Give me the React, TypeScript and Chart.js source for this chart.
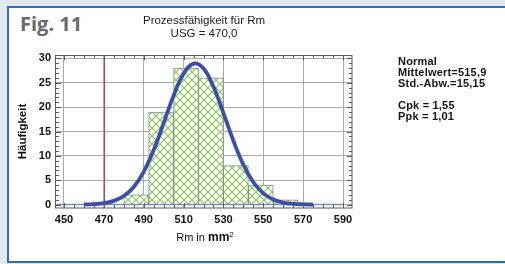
import React, { useEffect, useRef } from 'react';
import { Chart, registerables } from 'chart.js';

Chart.register(...registerables);

const figLabel = 'Fig. 11';
const titleLines = ['Prozessfähigkeit für Rm', 'USG = 470,0'];
const yTitle = 'Häufigkeit';
const xTitleMain = 'Rm in ';
const xTitleUnit = 'mm';
const xTitleExp = '2';

const binStarts = [480, 492.5, 505, 517.5, 530, 542.5, 555];
const binWidth = 12.5;
const counts = [2, 19, 28, 26, 8, 4, 1];

const curveX = [460, 465, 470, 475, 480, 485, 490, 495, 500, 505, 510, 515, 520, 525, 530, 535, 540, 545, 550, 555, 560, 565, 570, 575];
const curveY = [0.03, 0.1, 0.29, 0.76, 1.75, 3.62, 6.72, 11.19, 16.7, 22.37, 26.86, 28.92, 27.93, 24.19, 18.79, 13.09, 8.17, 4.58, 2.3, 1.04, 0.42, 0.15, 0.05, 0.01];

const baselineX = [446, 590];
const baselineY = [0, 0];

const usg = 470;
const xTicks = [450, 470, 490, 510, 530, 550, 570, 590];
const yTicks = [0, 5, 10, 15, 20, 25, 30];
const xMin = 446;
const xMax = 594.5;
const yMin = -0.7;
const yMax = 30.7;

const statsLines = ['Normal', 'Mittelwert=515,9', 'Std.-Abw.=15,15', '', 'Cpk = 1,55', 'Ppk = 1,01'];

function makeHatch(ctx: CanvasRenderingContext2D) {
  const c = document.createElement('canvas');
  c.width = 8;
  c.height = 8;
  const g = c.getContext('2d')!;
  g.fillStyle = '#ffffff';
  g.fillRect(0, 0, 8, 8);
  g.strokeStyle = '#88c450';
  g.lineWidth = 1.1;
  g.beginPath();
  g.moveTo(-1, -1);
  g.lineTo(9, 9);
  g.moveTo(-1, 9);
  g.lineTo(9, -1);
  g.stroke();
  return ctx.createPattern(c, 'repeat')!;
}

const framePlugin = {
  id: 'frameAndMarks',
  beforeDatasetsDraw(chart: any) {
    const { ctx, chartArea, scales } = chart;
    const x = scales.x.getPixelForValue(usg);
    ctx.save();
    ctx.strokeStyle = '#b5404e';
    ctx.lineWidth = 1;
    ctx.beginPath();
    ctx.moveTo(Math.round(x) + 0.5, chartArea.top);
    ctx.lineTo(Math.round(x) + 0.5, chartArea.bottom);
    ctx.stroke();
    ctx.restore();
  },
  afterDatasetsDraw(chart: any) {
    const { ctx, chartArea, scales } = chart;
    const { left, right, top, bottom } = chartArea;
    ctx.save();
    ctx.strokeStyle = '#5a5a5a';
    ctx.lineWidth = 1;
    ctx.strokeRect(Math.round(left) - 0.5, Math.round(top) + 0.5, Math.round(right - left) + 0.5, Math.round(bottom - top) - 0.5);
    ctx.beginPath();
    for (let v = 0; v <= 30; v += 1) {
      const y = Math.round(scales.y.getPixelForValue(v)) + 0.5;
      const len = v % 5 === 0 ? 5 : 3;
      ctx.moveTo(left, y);
      ctx.lineTo(left + len, y);
      ctx.moveTo(right, y);
      ctx.lineTo(right - len, y);
    }
    for (let v = 450; v <= 590; v += 5) {
      const x = Math.round(scales.x.getPixelForValue(v)) + 0.5;
      const len = v % 20 === 10 ? 5 : 3;
      ctx.moveTo(x, top);
      ctx.lineTo(x, top + len);
      ctx.moveTo(x, bottom);
      ctx.lineTo(x, bottom - len);
    }
    ctx.stroke();
    ctx.restore();
  },
};

export default function App() {
  const ref = useRef<HTMLCanvasElement | null>(null);

  useEffect(() => {
    const canvas = ref.current!;
    const ctx = canvas.getContext('2d')!;
    const hatch = makeHatch(ctx);
    const chart = new Chart(ctx, {
      type: 'bar',
      data: {
        datasets: [
          {
            type: 'line',
            data: curveX.map((x, i) => ({ x, y: curveY[i] })),
            borderColor: '#3b4ea8',
            borderWidth: 3.8,
            pointRadius: 0,
            tension: 0.4,
            fill: false,
            order: 0,
          } as any,
          {
            type: 'line',
            data: baselineX.map((x, i) => ({ x, y: baselineY[i] })),
            borderColor: 'rgba(110,125,195,0.75)',
            borderWidth: 1.5,
            pointRadius: 0,
            fill: false,
            order: 1,
          } as any,
          {
            type: 'bar',
            data: binStarts.map((s, i) => ({ x: s + binWidth / 2, y: counts[i] })),
            backgroundColor: hatch,
            borderColor: '#8a8a8a',
            borderWidth: 1,
            barPercentage: 1,
            categoryPercentage: 1,
            order: 2,
          } as any,
        ],
      },
      options: {
        responsive: false,
        animation: false,
        devicePixelRatio: 1,
        layout: { padding: { left: 0, right: 153, top: 14, bottom: 0 } },
        plugins: {
          legend: { display: false },
          tooltip: { enabled: false },
          title: {
            display: true,
            fullSize: false,
            text: titleLines,
            color: '#1a1a1a',
            font: { family: '"Liberation Sans", Arial, sans-serif', size: 11.5, weight: 'normal', lineHeight: '13px' },
            padding: { top: 0, bottom: 15 },
          },
        },
        scales: {
          x: {
            type: 'linear',
            offset: false,
            min: xMin,
            max: xMax,
            afterBuildTicks: (s: any) => {
              s.ticks = xTicks.map((v) => ({ value: v }));
            },
            afterFit: (s: any) => {
              s.height = 56;
            },
            ticks: {
              color: '#111',
              font: { family: '"Liberation Sans", Arial, sans-serif', size: 11, weight: 'bold' },
              padding: 5,
              maxRotation: 0,
              autoSkip: false,
            },
            grid: { color: '#a9a9a9', lineWidth: 1, drawTicks: false, offset: false },
            border: { display: false },
          },
          y: {
            type: 'linear',
            min: yMin,
            max: yMax,
            afterBuildTicks: (s: any) => {
              s.ticks = yTicks.map((v) => ({ value: v }));
            },
            afterFit: (s: any) => {
              s.width = 56;
            },
            ticks: {
              color: '#111',
              font: { family: '"Liberation Sans", Arial, sans-serif', size: 11, weight: 'bold' },
              padding: 5,
              autoSkip: false,
            },
            grid: { color: '#a9a9a9', lineWidth: 1, drawTicks: false },
            border: { display: false },
            title: {
              display: true,
              text: yTitle,
              color: '#111',
              font: { family: '"Liberation Sans", Arial, sans-serif', size: 11.5, weight: 'bold', lineHeight: 1.2 },
              padding: { top: 16, bottom: 0 },
            },
          },
        },
      },
      plugins: [framePlugin],
    } as any);
    return () => chart.destroy();
  }, []);

  return (
    <div style={{ position: 'fixed', left: 0, top: 0, width: 505, height: 264, background: '#e2e8f0', overflow: 'hidden' }}>
      <div
        style={{
          position: 'absolute',
          left: 7,
          top: 6,
          width: 520,
          height: 257,
          boxSizing: 'border-box',
          border: '2px solid #2f6fba',
          background: '#ffffff',
        }}
      />
      <div
        style={{
          position: 'absolute',
          left: 20,
          top: 14,
          font: 'bold 20px "Open Sans", sans-serif',
          lineHeight: '20px',
          color: '#6a6a6a',
          whiteSpace: 'nowrap',
        }}
      >
        {figLabel}
      </div>
      <canvas ref={ref} width={505} height={264} style={{ position: 'absolute', left: 0, top: 0, width: 505, height: 264 }} />
      <div
        style={{
          position: 'absolute',
          left: 105,
          top: 228,
          width: 200,
          textAlign: 'center',
          font: '11px "Liberation Sans", Arial, sans-serif',
          lineHeight: '14px',
          color: '#111',
          whiteSpace: 'nowrap',
        }}
      >
        {xTitleMain}
        <span style={{ fontWeight: 'bold', fontSize: 12 }}>{xTitleUnit}</span>
        <sup style={{ fontSize: 8, verticalAlign: 4 }}>{xTitleExp}</sup>
      </div>
      <div
        style={{
          position: 'absolute',
          left: 398,
          top: 56,
          font: 'bold 11px "Liberation Sans", Arial, sans-serif',
          letterSpacing: '0.2px',
          lineHeight: '11px',
          color: '#151515',
          whiteSpace: 'pre',
        }}
      >
        {statsLines.map((l, i) => (
          <div key={i} style={{ height: 11 }}>
            {l}
          </div>
        ))}
      </div>
    </div>
  );
}
